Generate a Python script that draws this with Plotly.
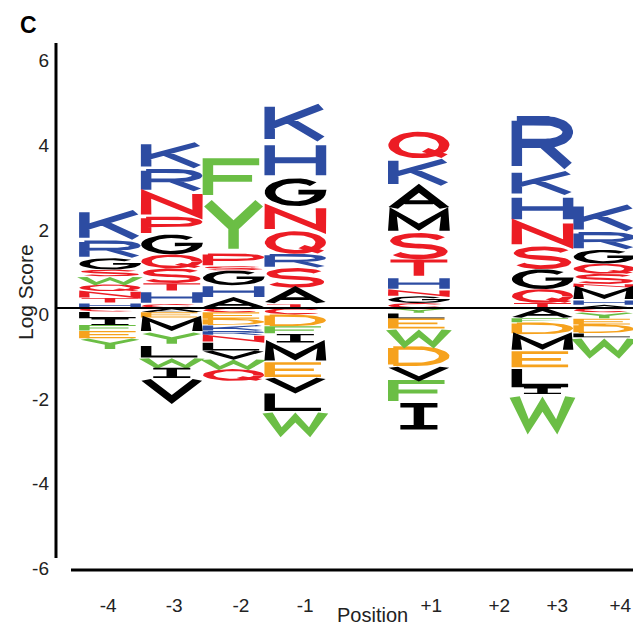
import numpy as np
import plotly.graph_objects as go

# ---------------- data (letters and log scores, listed from the zero line outward) ----------------
POSITIONS = [-4, -3, -2, -1, 1, 3, 4]

UP_M4_AA = ["H", "T", "N", "Q", "W", "S", "G", "R", "K"]
UP_M4_SC = [0.12, 0.12, 0.16, 0.16, 0.19, 0.16, 0.27, 0.42, 0.73]
DN_M4_AA = ["C", "L", "I", "F", "E", "Y"]
DN_M4_SC = [-0.08, -0.16, -0.16, -0.14, -0.17, -0.28]

UP_M3_AA = ["C", "H", "T", "S", "Q", "G", "P", "N", "R", "K"]
UP_M3_SC = [0.10, 0.30, 0.19, 0.35, 0.33, 0.47, 0.42, 0.59, 0.54, 0.64]
DN_M3_AA = ["A", "E", "M", "Y", "L", "W", "I", "V"]
DN_M3_SC = [-0.10, -0.12, -0.35, -0.30, -0.30, -0.24, -0.24, -0.56]

UP_M2_AA = ["A", "H", "G", "S", "P", "Y", "F"]
UP_M2_SC = [0.24, 0.30, 0.35, 0.10, 0.30, 1.30, 0.95]
DN_M2_AA = ["C", "E", "D", "K", "R", "N", "L", "V", "W", "Q"]
DN_M2_SC = [-0.10, -0.15, -0.15, -0.14, -0.10, -0.16, -0.20, -0.20, -0.24, -0.28]

UP_M1_AA = ["T", "A", "S", "R", "Q", "N", "G", "H", "K"]
UP_M1_SC = [0.10, 0.38, 0.47, 0.33, 0.54, 0.59, 0.66, 0.85, 0.92]
DN_M1_AA = ["C", "D", "F", "I", "M", "E", "V", "L", "W"]
DN_M1_SC = [-0.15, -0.28, -0.18, -0.20, -0.47, -0.35, -0.35, -0.45, -0.55]

UP_P1_AA = ["C", "G", "N", "H", "T", "S", "M", "A", "K", "Q"]
UP_P1_SC = [0.12, 0.16, 0.15, 0.30, 0.42, 0.63, 0.54, 0.56, 0.66, 0.63]
DN_P1_AA = ["Y", "L", "E", "W", "D", "V", "F", "I"]
DN_P1_SC = [-0.12, -0.12, -0.24, -0.42, -0.47, -0.33, -0.54, -0.63]

UP_P3_AA = ["T", "Q", "G", "S", "N", "H", "K", "R"]
UP_P3_SC = [0.12, 0.33, 0.47, 0.54, 0.59, 0.61, 0.59, 1.29]
DN_P3_AA = ["A", "F", "D", "M", "E", "L", "I", "W"]
DN_P3_SC = [-0.24, -0.10, -0.28, -0.40, -0.38, -0.47, -0.16, -0.85]

UP_P4_AA = ["A", "H", "M", "N", "S", "Q", "G", "R", "K"]
UP_P4_SC = [0.07, 0.12, 0.30, 0.08, 0.24, 0.24, 0.33, 0.42, 0.66]
DN_P4_AA = ["C", "Y", "E", "D", "L", "W"]
DN_P4_SC = [-0.10, -0.15, -0.14, -0.20, -0.10, -0.45]

UP_AA = [UP_M4_AA, UP_M3_AA, UP_M2_AA, UP_M1_AA, UP_P1_AA, UP_P3_AA, UP_P4_AA]
UP_SC = [UP_M4_SC, UP_M3_SC, UP_M2_SC, UP_M1_SC, UP_P1_SC, UP_P3_SC, UP_P4_SC]
DN_AA = [DN_M4_AA, DN_M3_AA, DN_M2_AA, DN_M1_AA, DN_P1_AA, DN_P3_AA, DN_P4_AA]
DN_SC = [DN_M4_SC, DN_M3_SC, DN_M2_SC, DN_M1_SC, DN_P1_SC, DN_P3_SC, DN_P4_SC]

X_TICK_TEXT = ["-4", "-3", "-2", "-1", "+1", "+2", "+3", "+4"]
X_TICK_AT = [-4.03, -2.96, -1.88, -0.84, 1.20, 2.30, 3.24, 4.26]
Y_TICK_TEXT = ["6", "4", "2", "0", "-2", "-4", "-6"]
Y_TICK_VAL = [6, 4, 2, 0, -2, -4, -6]

# ---------------- style ----------------
BLUE, RED, BLACK, GREEN, ORANGE = "#2D4CA2", "#EC1C24", "#000000", "#6BBE45", "#F6A21D"
COLORS = {"K": BLUE, "R": BLUE, "H": BLUE,
          "N": RED, "Q": RED, "S": RED, "T": RED, "C": RED, "P": RED,
          "G": BLACK, "A": BLACK, "M": BLACK, "L": BLACK, "I": BLACK, "V": BLACK,
          "F": GREEN, "W": GREEN, "Y": GREEN,
          "D": ORANGE, "E": ORANGE}
LETTER_W = 1.0
STROKE = 0.17
TICK_SHIFT = -0.15   # labels in the original sit a little below their value
FONT = "Liberation Sans, Arial, sans-serif"
TEXT_COLOR = "#222222"
PAGE_PAD = 8         # default body margin of the html page

# ---------------- glyph skeletons in a unit box ----------------
LO, HI = STROKE / 2, 1 - STROKE / 2


def arc(cx, cy, rx, ry, a0, a1, n=28):
    a = np.radians(np.linspace(a0, a1, n))
    return list(zip(cx + rx * np.cos(a), cy + ry * np.sin(a)))


def bowl():
    return [(LO, HI), (0.55, HI)] + arc(0.55, 0.705, 0.36, 0.205, 90, -90) + [(LO, 0.5)]


GLYPHS = {
    "A": [[(LO, LO), (0.5, HI), (HI, LO)], [(0.27, 0.33), (0.73, 0.33)]],
    "C": [arc(0.5, 0.5, 0.41, 0.41, 40, 320)],
    "D": [[(LO, LO), (LO, HI)], [(LO, HI), (0.45, HI)] + arc(0.45, 0.5, 0.46, 0.41, 90, -90) + [(LO, LO)]],
    "E": [[(HI, HI), (LO, HI), (LO, LO), (HI, LO)], [(LO, 0.5), (0.8, 0.5)]],
    "F": [[(HI, HI), (LO, HI), (LO, LO)], [(LO, 0.5), (0.8, 0.5)]],
    "G": [arc(0.5, 0.5, 0.41, 0.41, 45, 360) + [(0.55, 0.5)]],
    "H": [[(LO, LO), (LO, HI)], [(HI, LO), (HI, HI)], [(LO, 0.5), (HI, 0.5)]],
    "I": [[(0.2, HI), (0.8, HI)], [(0.5, HI), (0.5, LO)], [(0.2, LO), (0.8, LO)]],
    "K": [[(LO, LO), (LO, HI)], [(HI, HI), (LO + 0.02, 0.42)], [(0.36, 0.6), (HI, LO)]],
    "L": [[(LO, HI), (LO, LO), (HI, LO)]],
    "M": [[(LO, LO), (LO, HI), (0.5, 0.25), (HI, HI), (HI, LO)]],
    "N": [[(LO, LO), (LO, HI), (HI, LO), (HI, HI)]],
    "P": [[(LO, LO), (LO, HI)], bowl()],
    "Q": [arc(0.5, 0.5, 0.41, 0.41, 0, 360, 40), [(0.6, 0.32), (HI, LO)]],
    "R": [[(LO, LO), (LO, HI)], bowl(), [(0.5, 0.5), (HI, LO)]],
    "S": [arc(0.5, 0.705, 0.38, 0.205, 20, 270) + arc(0.5, 0.295, 0.38, 0.205, 90, -160)],
    "T": [[(0.04, HI), (0.96, HI)], [(0.5, HI), (0.5, LO)]],
    "V": [[(LO, HI), (0.5, LO), (HI, HI)]],
    "W": [[(0.05, HI), (0.27, LO), (0.5, 0.72), (0.73, LO), (0.95, HI)]],
    "Y": [[(LO, HI), (0.5, 0.48), (HI, HI)], [(0.5, 0.48), (0.5, LO)]],
}


def stroke_polygon(pts, t):
    pts = np.array(pts, float)
    keep = [0]
    for i in range(1, len(pts)):
        if np.hypot(*(pts[i] - pts[keep[-1]])) > 1e-6:
            keep.append(i)
    pts = pts[keep]
    closed = len(pts) > 2 and np.hypot(*(pts[0] - pts[-1])) < 1e-6
    if closed:
        pts = pts[:-1]
    n = len(pts)
    segs = (np.roll(pts, -1, axis=0) - pts) if closed else (pts[1:] - pts[:-1])
    norms = np.stack([-segs[:, 1], segs[:, 0]], 1) / np.linalg.norm(segs, axis=1)[:, None]
    offs = []
    for i in range(n):
        if closed:
            n1, n2 = norms[i - 1], norms[i]
        else:
            n1, n2 = norms[max(i - 1, 0)], norms[min(i, len(norms) - 1)]
        m = n1 + n2
        ln = np.linalg.norm(m)
        m = n2 if ln < 1e-9 else m / ln
        d = max(float(np.dot(m, n1)), 1e-3)
        offs.append(m * min(1.0 / d, 2.5) * t / 2)
    offs = np.array(offs)
    left, right = pts + offs, pts - offs
    if closed:
        poly = np.vstack([left, left[:1], right[:1], right[:0:-1], right[:1]])
    else:
        poly = np.vstack([left, right[::-1]])
    x, y = poly[:, 0], poly[:, 1]
    area = 0.5 * np.sum(x * np.roll(y, -1) - np.roll(x, -1) * y)
    return poly if area >= 0 else poly[::-1]


GLYPH_POLYS = {k: [stroke_polygon(s, STROKE) for s in v] for k, v in GLYPHS.items()}

# ---------------- build letter polygons through data coordinates ----------------
paths = {c: ([], []) for c in set(COLORS.values())}


def add_letter(letter, xc, y0, h):
    xs, ys = paths[COLORS[letter]]
    for poly in GLYPH_POLYS[letter]:
        xs.extend(list(xc - LETTER_W / 2 + poly[:, 0] * LETTER_W) + [None])
        ys.extend(list(y0 + poly[:, 1] * h) + [None])


for pos, aas, scs in zip(POSITIONS, UP_AA, UP_SC):
    base = 0.0
    for aa, s in zip(aas, scs):
        add_letter(aa, pos, base, s)
        base += s
for pos, aas, scs in zip(POSITIONS, DN_AA, DN_SC):
    base = 0.0
    for aa, s in zip(aas, scs):
        base += s
        add_letter(aa, pos, base, -s)

fig = go.Figure()
for color, (xs, ys) in paths.items():
    fig.add_trace(go.Scatter(x=xs, y=ys, mode="lines", fill="toself", fillcolor=color,
                             line=dict(width=0, color=color), hoverinfo="skip", showlegend=False))

fig.update_layout(
    width=641 - PAGE_PAD, height=629 - PAGE_PAD,
    margin=dict(l=55 - PAGE_PAD, r=4, t=42 - PAGE_PAD, b=59),
    paper_bgcolor="white", plot_bgcolor="white",
    font=dict(family=FONT, size=19, color=TEXT_COLOR),
    xaxis=dict(range=[-4.89, 4.53], showgrid=False, zeroline=False, showline=False,
               tickmode="array", tickvals=X_TICK_AT, ticktext=X_TICK_TEXT,
               tickfont=dict(size=19, family=FONT, color=TEXT_COLOR),
               ticks="", ticklabelstandoff=22, fixedrange=True),
    yaxis=dict(range=[-6.19, 6.29], showgrid=False, zeroline=False, showline=False,
               tickmode="array", tickvals=[v + TICK_SHIFT for v in Y_TICK_VAL], ticktext=Y_TICK_TEXT,
               tickfont=dict(size=19, family=FONT, color=TEXT_COLOR),
               ticks="", ticklabelstandoff=5, fixedrange=True),
    shapes=[
        dict(type="line", xref="paper", yref="paper", x0=0.0017, x1=0.0017, y0=0.0227, y1=0.998,
             line=dict(color="black", width=3)),
        dict(type="line", xref="paper", yref="paper", x0=0.0275, x1=1.0, y0=0, y1=0,
             line=dict(color="black", width=3)),
        dict(type="line", xref="paper", yref="y", x0=0.0, x1=1.007, y0=0, y1=0,
             line=dict(color="black", width=2), layer="above"),
    ],
    annotations=[
        dict(text="Log Score", xref="paper", yref="paper", x=-0.0515, y=0.5265, textangle=-90,
             xanchor="center", yanchor="middle",
             showarrow=False, font=dict(size=21, family=FONT, color=TEXT_COLOR)),
        dict(text="Position", xref="paper", yref="paper", x=0.5447, y=-0.086,
             xanchor="center", yanchor="middle",
             showarrow=False, font=dict(size=20, family=FONT, color=TEXT_COLOR)),
        dict(text="<b>C</b>", xref="paper", yref="paper", x=-0.046, y=1.032,
             xanchor="center", yanchor="middle",
             showarrow=False, font=dict(size=23, family=FONT, color="black")),
    ],
)

fig.write_html("out.html")
